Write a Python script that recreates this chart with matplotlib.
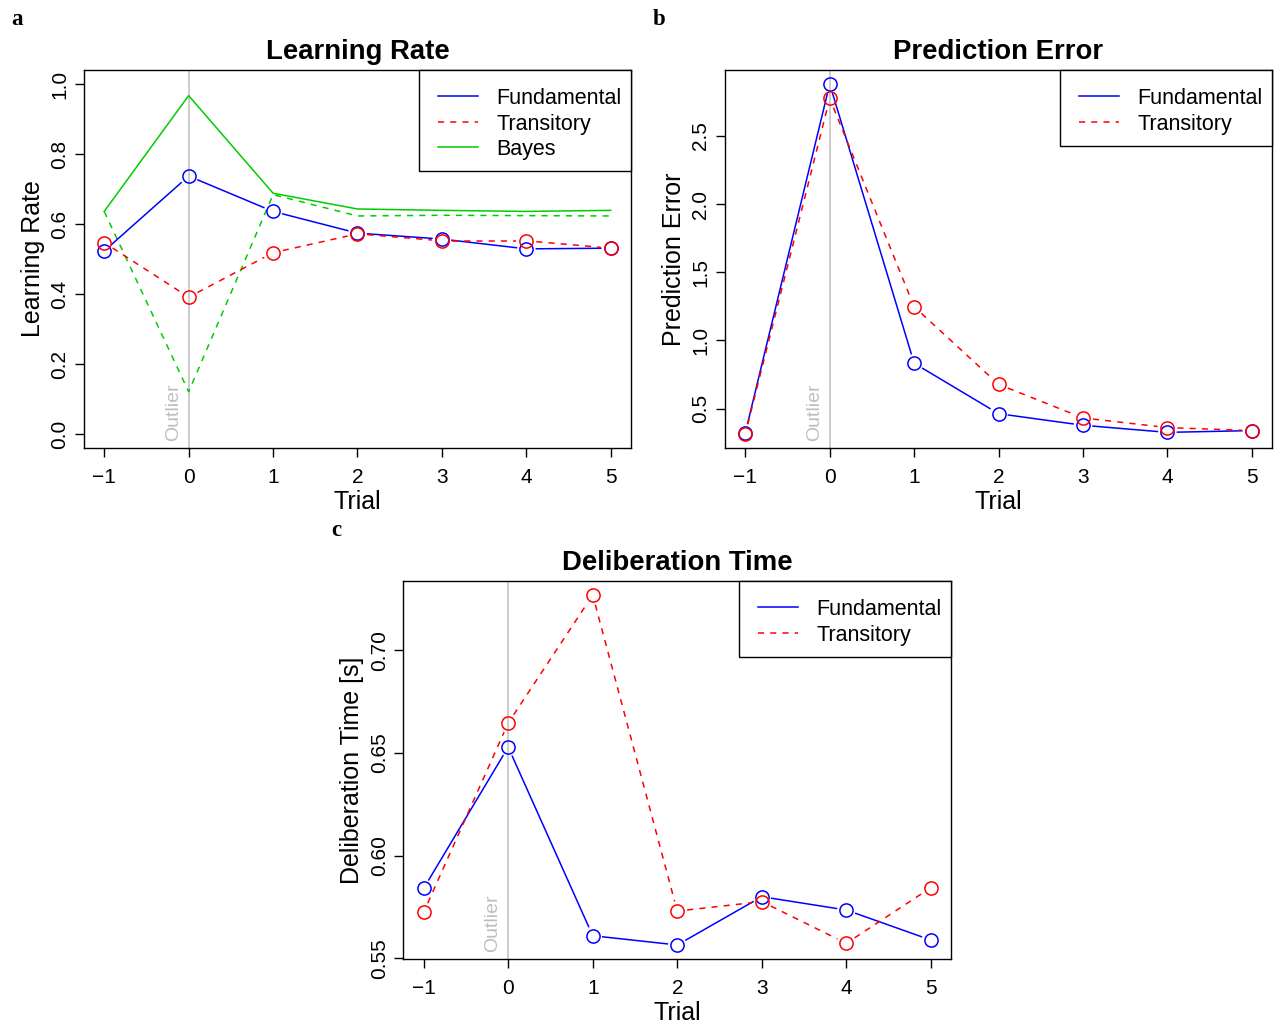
import numpy as np
import matplotlib
matplotlib.use("Agg")
import matplotlib.pyplot as plt
from matplotlib.lines import Line2D
from matplotlib.patches import Rectangle
from matplotlib.transforms import ScaledTranslation

plt.rcParams["font.family"] = ["Liberation Sans", "DejaVu Sans"]
plt.rcParams["axes.unicode_minus"] = True

# --- data ---
trials = [-1, 0, 1, 2, 3, 4, 5]

lr_fund = [0.523, 0.737, 0.636, 0.574, 0.557, 0.529, 0.531]
lr_trans = [0.547, 0.391, 0.518, 0.572, 0.552, 0.552, 0.531]
lr_bayes_fund = [0.636, 0.967, 0.688, 0.643, 0.639, 0.636, 0.639]
lr_bayes_trans = [0.636, 0.121, 0.684, 0.623, 0.625, 0.624, 0.623]

pe_fund = [0.322, 2.881, 0.833, 0.463, 0.378, 0.326, 0.339]
pe_trans = [0.314, 2.776, 1.248, 0.678, 0.432, 0.361, 0.339]

dt_fund = [0.5840, 0.6528, 0.5610, 0.5565, 0.5800, 0.5735, 0.5589]
dt_trans = [0.5724, 0.6645, 0.7268, 0.5730, 0.5776, 0.5573, 0.5844]

BLUE = "#0000ff"
RED = "#ff0000"
GREEN = "#00cd00"
GREY = "#bebebe"
LW = 1.1
MS = 9.5
GAP = 10  # px, gap between line and point (R type="b")


def r_range(vals):
    lo, hi = min(vals), max(vals)
    d = (hi - lo) * 0.04
    return lo - d, hi + d


def linea_b(ax, x, y, color, dashed):
    """Linhas com lacunas em torno dos pontos, como type='b' no R."""
    estilo = {"dashes": (4, 4)} if dashed else {}
    pts = ax.transData.transform(np.column_stack([x, y]))
    inv = ax.transData.inverted()
    for p0, p1 in zip(pts[:-1], pts[1:]):
        v = p1 - p0
        d = np.hypot(*v)
        if d <= 2 * GAP:
            continue
        u = v / d
        a = inv.transform(p0 + u * GAP)
        b = inv.transform(p1 - u * GAP)
        ax.plot([a[0], b[0]], [a[1], b[1]], color=color, lw=LW, **estilo)
    ax.plot(x, y, ls="none", marker="o", ms=MS, mfc="none", mec=color, mew=LW)


def configurar(ax, titulo, ylabel, ylim, yticks, yfmt):
    ax.set_xlim(-1.24, 5.24)
    ax.set_ylim(*ylim)
    ax.set_xticks(trials)
    ax.set_xticklabels([f"{t}".replace("-", "\u2212") for t in trials])
    ax.set_yticks(yticks)
    ax.set_yticklabels([yfmt.format(v) for v in yticks], rotation=90, va="center")
    ax.tick_params(length=6.5, width=1, labelsize=15)
    ax.tick_params(axis="x", pad=8)
    ax.tick_params(axis="y", pad=4)
    for s in ax.spines.values():
        s.set_linewidth(1)
    ax.set_title(titulo, fontsize=19.8, fontweight="bold", pad=8)
    ax.set_xlabel("Trial", fontsize=18, labelpad=2)
    ax.set_ylabel(ylabel, fontsize=18, labelpad=4)
    ax.axvline(0, color=GREY, lw=1.1, zorder=0)
    ax.annotate("Outlier", xy=(0, ylim[0]), xytext=(-5, 5), textcoords="offset points",
                rotation=90, ha="right", va="bottom", color=GREY, fontsize=14)


def legenda(ax, itens):
    """Legenda no estilo R, desenhada em pixels a partir do canto superior direito."""
    fig = ax.figure
    px = 1 / fig.dpi
    tr = fig.dpi_scale_trans + ScaledTranslation(1, 1, ax.transAxes)
    largura, topo, passo = 212, 26, 25.5
    altura = topo + passo * (len(itens) - 1) + 24
    ax.add_patch(Rectangle((-largura * px, -altura * px), largura * px, altura * px,
                           transform=tr, facecolor="white", edgecolor="black", lw=1,
                           clip_on=False, zorder=5))
    for i, (label, cor, tracejado) in enumerate(itens):
        y = -(topo + passo * i) * px
        estilo = {"dashes": (4, 4)} if tracejado else {}
        ax.add_line(Line2D([(-largura + 19) * px, (-largura + 59) * px], [y, y],
                           transform=tr, color=cor, lw=LW, clip_on=False, zorder=6, **estilo))
        ax.text((-largura + 77) * px, y, label, transform=tr, fontsize=15.5,
                va="center_baseline", ha="left", zorder=6)


fig = plt.figure(figsize=(12.74, 10.24), dpi=100)
W, H = 0.4294, 0.3691
ax_a = fig.add_axes([0.0659, 0.5625, W, H])
ax_b = fig.add_axes([0.5691, 0.5625, W, H])
ax_c = fig.add_axes([0.3166, 0.0635, 0.4300, H])

itens_base = [("Fundamental", BLUE, False), ("Transitory", RED, True)]

# a: learning rate
configurar(ax_a, "Learning Rate", "Learning Rate", (-0.04, 1.04),
           [0.0, 0.2, 0.4, 0.6, 0.8, 1.0], "{:.1f}")
ax_a.plot(trials, lr_bayes_fund, color=GREEN, lw=LW)
ax_a.plot(trials, lr_bayes_trans, color=GREEN, lw=LW, dashes=(4, 4))
linea_b(ax_a, trials, lr_fund, BLUE, False)
linea_b(ax_a, trials, lr_trans, RED, True)
legenda(ax_a, itens_base + [("Bayes", GREEN, False)])

# b: prediction error
configurar(ax_b, "Prediction Error", "Prediction Error", r_range(pe_fund + pe_trans),
           [0.5, 1.0, 1.5, 2.0, 2.5], "{:.1f}")
linea_b(ax_b, trials, pe_fund, BLUE, False)
linea_b(ax_b, trials, pe_trans, RED, True)
legenda(ax_b, itens_base)

# c: deliberation time
configurar(ax_c, "Deliberation Time", "Deliberation Time [s]", r_range(dt_fund + dt_trans),
           [0.55, 0.60, 0.65, 0.70], "{:.2f}")
linea_b(ax_c, trials, dt_fund, BLUE, False)
linea_b(ax_c, trials, dt_trans, RED, True)
legenda(ax_c, itens_base)

for lbl, x, y in [("a", 0.009, 0.981), ("b", 0.512, 0.981), ("c", 0.260, 0.482)]:
    fig.text(x, y, lbl, fontsize=16.5, fontweight="bold", family="Liberation Serif",
             ha="left", va="center")

fig.savefig("out.png", dpi=100)
